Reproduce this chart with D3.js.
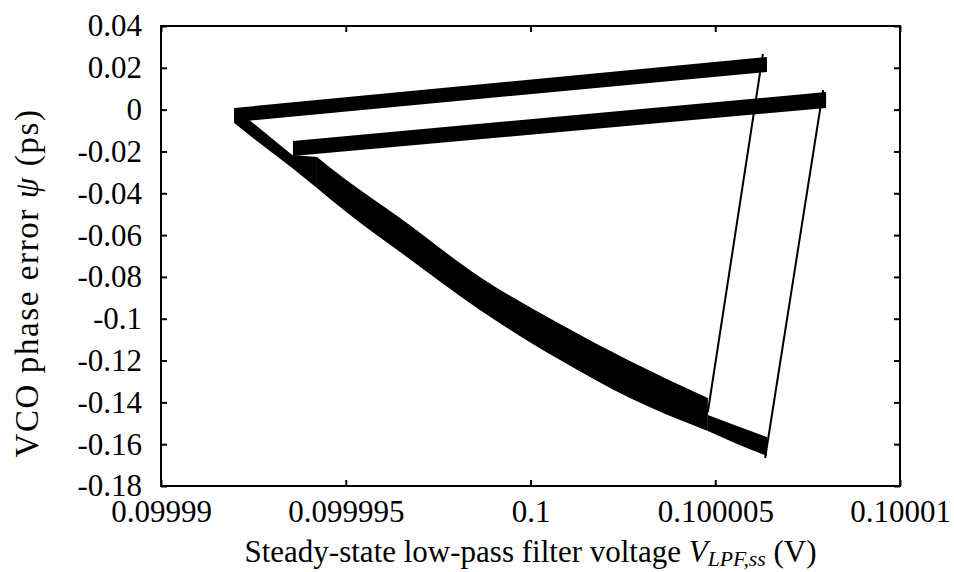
<!DOCTYPE html>
<html>
<head>
<meta charset="utf-8">
<script src="https://cdn.jsdelivr.net/npm/d3@7/dist/d3.min.js"></script>
<style>
  html, body { margin: 0; padding: 0; background: #fff; }
  svg { display: block; }
  text { font-family: "Liberation Serif", "Times New Roman", serif; fill: #000; }
</style>
</head>
<body>
<svg id="chart" width="954" height="572"></svg>
<script>
// Axis ticks
const xTickValues = [0.09999, 0.099995, 0.1, 0.100005, 0.10001];
const xTickLabels = ["0.09999", "0.099995", "0.1", "0.100005", "0.10001"];
const yTickValues = [0.04, 0.02, 0, -0.02, -0.04, -0.06, -0.08, -0.1, -0.12, -0.14, -0.16, -0.18];
const yTickLabels = ["0.04", "0.02", "0", "-0.02", "-0.04", "-0.06", "-0.08", "-0.1", "-0.12", "-0.14", "-0.16", "-0.18"];

// Charging ramps (ripple envelopes): V_LPF (V), psi upper / lower edge (ps)
const rampA_v  = [0.09999198, 0.10000640];
const rampA_hi = [0.00078, 0.02517];
const rampA_lo = [-0.00591, 0.01800];

const rampB_v  = [0.09999357, 0.10000800];
const rampB_hi = [-0.01500, 0.00844];
const rampB_lo = [-0.02217, 0.00078];

// Discharge envelope: start of the first cycle, before the second one joins
const decayStart_v  = [0.09999198, 0.09999249, 0.09999355, 0.09999422];
const decayStart_hi = [0.00078, -0.00639, -0.02169, -0.02265];
const decayStart_lo = [-0.00639, -0.01356, -0.02791, -0.03747];

// Discharge envelope of both cycles, up to the first turn-around
const decay_v  = [0.09999422, 0.09999498, 0.09999647, 0.09999863, 0.10000080, 0.10000269, 0.10000480];
const decay_hi = [-0.02265, -0.03317, -0.05182, -0.08004, -0.10252, -0.12021, -0.13791];
const decay_lo = [-0.03747, -0.04848, -0.06808, -0.09582, -0.11973, -0.13790, -0.15369];

// Discharge tail of the second cycle
const tail_v  = [0.10000480, 0.10000559, 0.10000640];
const tail_hi = [-0.14604, -0.15130, -0.15656];
const tail_lo = [-0.15369, -0.15990, -0.16565];

// Fast transitions (single traces)
const jumpA_v   = [0.10000629, 0.10000480];
const jumpA_psi = [0.02661, -0.14460];
const jumpB_v   = [0.10000792, 0.10000635];
const jumpB_psi = [0.00939, -0.16660];

const width = 954, height = 572;
const margin = { top: 26, right: 54, bottom: 86, left: 161 };
const plotW = width - margin.left - margin.right;
const plotH = height - margin.top - margin.bottom;
const FONT = 31;

const svg = d3.select("#chart");
const g = svg.append("g").attr("transform", `translate(${margin.left},${margin.top})`);

const x = d3.scaleLinear().domain([0.09999, 0.10001]).range([0, plotW]);
const y = d3.scaleLinear().domain([-0.18, 0.04]).range([plotH, 0]);

const zipBand = (v, hi, lo) => v.map((d, i) => ({ v: d, hi: hi[i], lo: lo[i] }));
const zipLine = (v, p) => v.map((d, i) => ({ v: d, p: p[i] }));

const band = d3.area().x(d => x(d.v)).y0(d => y(d.lo)).y1(d => y(d.hi));
const bandSmooth = d3.area().x(d => x(d.v)).y0(d => y(d.lo)).y1(d => y(d.hi)).curve(d3.curveMonotoneX);
const trace = d3.line().x(d => x(d.v)).y(d => y(d.p));

const marks = g.append("g");
marks.append("path").datum(zipBand(decayStart_v, decayStart_hi, decayStart_lo)).attr("d", band).attr("fill", "#000");
marks.append("path").datum(zipBand(decay_v, decay_hi, decay_lo)).attr("d", bandSmooth).attr("fill", "#000");
marks.append("path").datum(zipBand(tail_v, tail_hi, tail_lo)).attr("d", bandSmooth).attr("fill", "#000");
marks.append("path").datum(zipBand(rampA_v, rampA_hi, rampA_lo)).attr("d", band).attr("fill", "#000");
marks.append("path").datum(zipBand(rampB_v, rampB_hi, rampB_lo)).attr("d", band).attr("fill", "#000");
marks.append("path").datum(zipLine(jumpA_v, jumpA_psi)).attr("d", trace)
  .attr("fill", "none").attr("stroke", "#000").attr("stroke-width", 2);
marks.append("path").datum(zipLine(jumpB_v, jumpB_psi)).attr("d", trace)
  .attr("fill", "none").attr("stroke", "#000").attr("stroke-width", 2);

// Axes with inward ticks on all four sides
const tickLen = 6;
const styleAxis = sel => {
  sel.select(".domain").remove();
  sel.selectAll(".tick line").attr("stroke", "#000").attr("stroke-width", 2);
  sel.selectAll(".tick text").attr("font-size", FONT).attr("fill", "#000")
     .attr("font-family", '"Liberation Serif", "Times New Roman", serif');
};

g.append("g").attr("transform", `translate(0,${plotH})`)
  .call(d3.axisBottom(x).tickValues(xTickValues).tickSize(-tickLen).tickPadding(14)
    .tickFormat((d, i) => xTickLabels[i]))
  .call(styleAxis);
g.append("g")
  .call(d3.axisTop(x).tickValues(xTickValues).tickSize(-tickLen).tickFormat(() => ""))
  .call(styleAxis);
g.append("g")
  .call(d3.axisLeft(y).tickValues(yTickValues).tickSize(-tickLen).tickPadding(19)
    .tickFormat((d, i) => yTickLabels[i]))
  .call(styleAxis);
g.append("g").attr("transform", `translate(${plotW},0)`)
  .call(d3.axisRight(y).tickValues(yTickValues).tickSize(-tickLen).tickFormat(() => ""))
  .call(styleAxis);

// Plot frame
g.append("rect").attr("x", 0).attr("y", 0).attr("width", plotW).attr("height", plotH)
  .attr("fill", "none").attr("stroke", "#000").attr("stroke-width", 2);

// X axis title
const xt = svg.append("text")
  .attr("x", margin.left + plotW / 2).attr("y", 562)
  .attr("text-anchor", "middle").attr("font-size", FONT);
xt.append("tspan").text("Steady-state low-pass filter voltage ");
xt.append("tspan").attr("font-style", "italic").text("V");
xt.append("tspan").attr("font-style", "italic").attr("font-size", FONT * 0.7).attr("dy", 4).text("LPF,ss");
xt.append("tspan").attr("dy", -4).text(" (V)");

// Y axis title
const yt = svg.append("text")
  .attr("transform", `translate(38,283) rotate(-90)`)
  .attr("text-anchor", "middle").attr("font-size", 33).attr("letter-spacing", 1.6);
yt.append("tspan").text("VCO phase error ");
yt.append("tspan").attr("font-style", "italic").text("ψ");
yt.append("tspan").text(" (ps)");
</script>
</body>
</html>
